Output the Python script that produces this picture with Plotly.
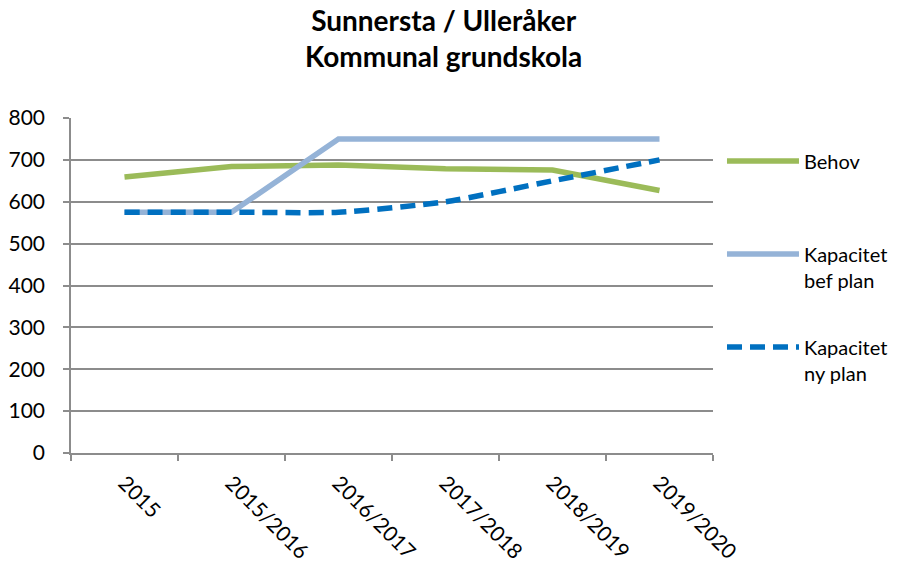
import plotly.graph_objects as go

# Skolår (kategorier på x-axeln)
years = ["2015", "2015/2016", "2016/2017", "2017/2018", "2018/2019", "2019/2020"]

# Elevbehov och kapacitet per läsår
behov = [659, 684, 688, 679, 676, 627]
kapacitet_bef_plan = [575, 575, 750, 750, 750, 750]
kapacitet_ny_plan = [575, 575, 575, 600, 650, 700]

y_ticks = [0, 100, 200, 300, 400, 500, 600, 700, 800]

FONT = "Lato, 'Open Sans', sans-serif"
GRID = "#8c8c8c"

fig = go.Figure()

fig.add_trace(go.Scatter(
    x=years, y=behov, mode="lines", name="Behov<br> ",
    line=dict(color="#9BBB59", width=5.5),
    legendgroup="a",
))
fig.add_trace(go.Scatter(
    x=years, y=kapacitet_bef_plan, mode="lines", name="Kapacitet<br>bef plan",
    line=dict(color="#95B3D7", width=5.5),
    legendgroup="b",
))
fig.add_trace(go.Scatter(
    x=years, y=kapacitet_ny_plan, mode="lines", name="Kapacitet<br>ny plan",
    line=dict(color="#0070C0", width=5.5, dash="15px,8px", shape="spline", smoothing=0.6),
    legendgroup="c",
))

# Rubrik i två rader ovanför diagrammet
fig.add_annotation(
    text="<b>Sunnersta / Ulleråker<br>Kommunal grundskola</b>",
    xref="paper", yref="paper", x=0.58, y=1.35, xanchor="center", yanchor="top",
    showarrow=False, align="center",
    font=dict(family=FONT, size=28, color="black"),
)

fig.update_layout(
    width=909, height=565,
    margin=dict(l=71, r=196, t=118, b=112, autoexpand=False),
    paper_bgcolor="white", plot_bgcolor="white",
    font=dict(family=FONT, size=20, color="black"),
    legend=dict(
        x=1.014, xanchor="left", xref="paper",
        y=0.93, yanchor="top",
        font=dict(family=FONT, size=20, color="black"),
        itemwidth=72, valign="top", tracegroupgap=38,
        bgcolor="rgba(0,0,0,0)",
    ),
    showlegend=True,
)

fig.update_xaxes(
    type="category", tickangle=45, range=[-0.5, 5.5],
    showline=True, linecolor=GRID, linewidth=1.5,
    ticks="outside", ticklen=6, tickcolor=GRID, tickwidth=1.5,
    tickson="boundaries", showgrid=False, automargin=False,
    ticklabelstandoff=8,
    tickfont=dict(family=FONT, size=21),
)
fig.update_yaxes(
    range=[0, 800], tickvals=y_ticks,
    showline=True, linecolor=GRID, linewidth=1.5,
    ticks="outside", ticklen=6, tickcolor=GRID, tickwidth=1.5,
    showgrid=True, gridcolor=GRID, gridwidth=1.5, automargin=False,
    zeroline=False, ticklabelstandoff=14,
    tickfont=dict(family=FONT, size=21),
)

fig.write_html("out.html")
